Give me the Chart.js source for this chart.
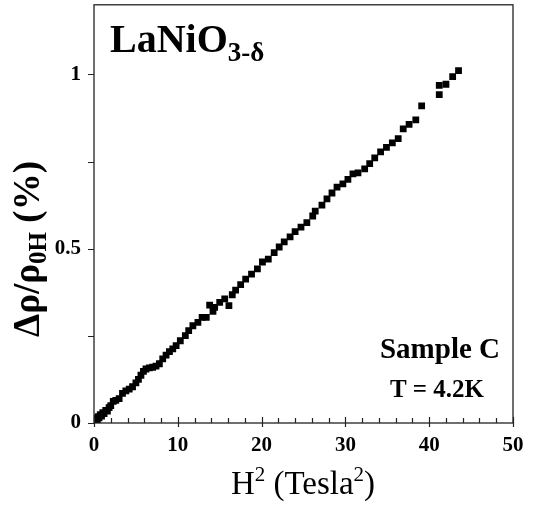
<!DOCTYPE html>
<html>
<head>
<meta charset="utf-8">
<script src="https://cdn.jsdelivr.net/npm/chart.js@4.4.1/dist/chart.umd.min.js"></script>
<style>
  html, body { margin: 0; padding: 0; background: #fff; }
  #wrap { width: 534px; height: 506px; position: relative; }
</style>
</head>
<body>
<div id="wrap"><canvas id="chart"></canvas></div>
<script>
// H^2 (Tesla^2) values
const fieldSq = [
  0, 0.05, 0.1, 0.15, 0.2, 0.3, 0.4, 0.5, 0.6, 0.75, 0.9, 1.05, 1.2, 1.4, 1.6, 1.8,
  2.0, 2.3, 2.6, 3.0, 3.4, 3.8, 4.2, 4.6, 5.0, 5.3, 5.6, 5.9, 6.2, 6.6, 7.0, 7.4,
  7.8, 8.2, 8.6, 9.0, 9.4, 9.8, 10.3, 10.9, 11.3, 11.8, 12.4, 12.9, 13.4, 13.8,
  14.2, 14.4, 15.0, 15.6, 16.1, 16.5, 16.9, 17.5, 18.1, 18.8, 19.5, 20.1, 20.8,
  21.5, 22.1, 22.7, 23.4, 24.0, 24.7, 25.4, 26.1, 26.4, 27.2, 27.8, 28.4, 29.0,
  29.7, 30.3, 30.9, 31.5, 32.3, 32.9, 33.5, 34.2, 34.9, 35.6, 36.3, 36.9, 37.6,
  38.4, 39.1, 41.2, 41.2, 42.0, 42.8, 43.5
];
// magnetoresistance in %
const deltaRho = [
  0.0, 0.006, 0.003, 0.012, 0.008, 0.014, 0.010, 0.018, 0.015, 0.024, 0.020, 0.030,
  0.027, 0.036, 0.034, 0.044, 0.050, 0.062, 0.065, 0.070, 0.085, 0.092, 0.097,
  0.104, 0.115, 0.125, 0.137, 0.148, 0.155, 0.158, 0.160, 0.163, 0.170, 0.184,
  0.195, 0.205, 0.213, 0.222, 0.236, 0.251, 0.265, 0.279, 0.289, 0.303, 0.303,
  0.338, 0.320, 0.332, 0.346, 0.356, 0.337, 0.368, 0.381, 0.397, 0.413, 0.427,
  0.442, 0.462, 0.470, 0.489, 0.505, 0.520, 0.534, 0.549, 0.562, 0.575, 0.594,
  0.608, 0.625, 0.643, 0.660, 0.677, 0.686, 0.699, 0.715, 0.718, 0.729, 0.744,
  0.761, 0.778, 0.791, 0.804, 0.816, 0.844, 0.857, 0.870, 0.910, 0.942, 0.969,
  0.972, 0.994, 1.011
];

const xTickLabels = [0, 10, 20, 30, 40, 50];
const xMinorStep = 2;
const yTickLabels = [0, 0.5, 1];
const yMinorTicks = [0.25, 0.75];

const SERIF = '"Liberation Serif", "Times New Roman", serif';

// draws runs of text with their own font and baseline shift (sub/superscripts)
function drawRuns(ctx, runs, x, y, align) {
  let total = 0;
  runs.forEach(r => { ctx.font = r.font; total += ctx.measureText(r.t).width; });
  let cx = align === 'center' ? x - total / 2 : x;
  ctx.textAlign = 'left';
  ctx.textBaseline = 'alphabetic';
  runs.forEach(r => {
    ctx.font = r.font;
    ctx.fillText(r.t, cx, y + (r.dy || 0));
    cx += ctx.measureText(r.t).width;
  });
}

// no extra room for edge labels, the frame sits where the picture has it
function noPad(s) {
  s.paddingTop = 0;
  s.paddingBottom = 0;
  s.paddingLeft = 0;
  s.paddingRight = 0;
}

const framePlugin = {
  id: 'framePlugin',
  afterDraw(chart) {
    const ctx = chart.ctx;
    const a = chart.chartArea;
    const xs = chart.scales.x, ys = chart.scales.y;
    ctx.save();
    ctx.strokeStyle = '#222';
    ctx.lineWidth = 1.3;
    ctx.strokeRect(a.left, a.top, a.right - a.left, a.bottom - a.top);

    // x ticks: minor inward, major in and out
    ctx.lineWidth = 1.2;
    ctx.beginPath();
    for (let v = 0; v <= 50; v += xMinorStep) {
      const px = Math.round(xs.getPixelForValue(v)) + 0.5;
      const major = xTickLabels.includes(v);
      ctx.moveTo(px, a.bottom - (major ? 6 : 5));
      ctx.lineTo(px, a.bottom + (major ? 4 : 0));
    }
    // y ticks outward
    yTickLabels.concat(yMinorTicks).forEach(v => {
      const py = Math.round(ys.getPixelForValue(v)) + 0.5;
      ctx.moveTo(a.left - 6, py);
      ctx.lineTo(a.left, py);
    });
    ctx.stroke();

    ctx.fillStyle = '#000';
    // compound name
    drawRuns(ctx, [
      { t: 'LaNiO', font: 'bold 40px ' + SERIF },
      { t: '3-δ', font: 'bold 27px ' + SERIF, dy: 9 }
    ], 110, 52, 'left');
    // sample notes
    drawRuns(ctx, [{ t: 'Sample C', font: 'bold 29px ' + SERIF }], 440, 358, 'center');
    drawRuns(ctx, [{ t: 'T = 4.2K', font: 'bold 25px ' + SERIF }], 437, 397, 'center');

    // x title
    drawRuns(ctx, [
      { t: 'H', font: '33px ' + SERIF },
      { t: '2', font: '21px ' + SERIF, dy: -13 },
      { t: ' (Tesla', font: '33px ' + SERIF },
      { t: '2', font: '21px ' + SERIF, dy: -13 },
      { t: ')', font: '33px ' + SERIF }
    ], 303, 494, 'center');

    // y title, rotated
    ctx.translate(39, 249);
    ctx.rotate(-Math.PI / 2);
    drawRuns(ctx, [
      { t: 'Δρ/ρ', font: 'bold 37px ' + SERIF },
      { t: '0H', font: 'bold 25px ' + SERIF, dy: 7 },
      { t: ' (%)', font: 'bold 37px ' + SERIF }
    ], 0, 0, 'center');
    ctx.restore();
  }
};

const chart = new Chart(document.getElementById('chart'), {
  type: 'scatter',
  data: {
    datasets: [{
      data: fieldSq.map((x, i) => ({ x: x, y: deltaRho[i] })),
      pointStyle: 'rect',
      pointRadius: 4.8,
      pointHoverRadius: 4.8,
      backgroundColor: '#000',
      borderWidth: 0
    }]
  },
  options: {
    responsive: true,
    maintainAspectRatio: false,
    animation: false,
    events: [],
    layout: { padding: { top: 4, right: 21, left: 0, bottom: 0 } },
    plugins: { legend: { display: false }, tooltip: { enabled: false } },
    scales: {
      x: {
        type: 'linear',
        min: 0,
        max: 50,
        afterBuildTicks: s => { s.ticks = xTickLabels.map(v => ({ value: v })); },
        afterFit: s => { s.height = 83; noPad(s); },
        grid: { display: false },
        border: { display: false },
        ticks: {
          padding: 2,
          color: '#000',
          font: { family: SERIF, size: 21, weight: 'bold' },
          maxRotation: 0
        }
      },
      y: {
        type: 'linear',
        min: 0,
        max: 1.2,
        afterBuildTicks: s => { s.ticks = yTickLabels.map(v => ({ value: v })); },
        afterFit: s => { s.width = 94; noPad(s); },
        grid: { display: false },
        border: { display: false },
        ticks: {
          padding: 5,
          color: '#000',
          font: { family: SERIF, size: 21, weight: 'bold' },
          callback: v => String(v)
        }
      }
    }
  },
  plugins: [framePlugin]
});
</script>
</body>
</html>
